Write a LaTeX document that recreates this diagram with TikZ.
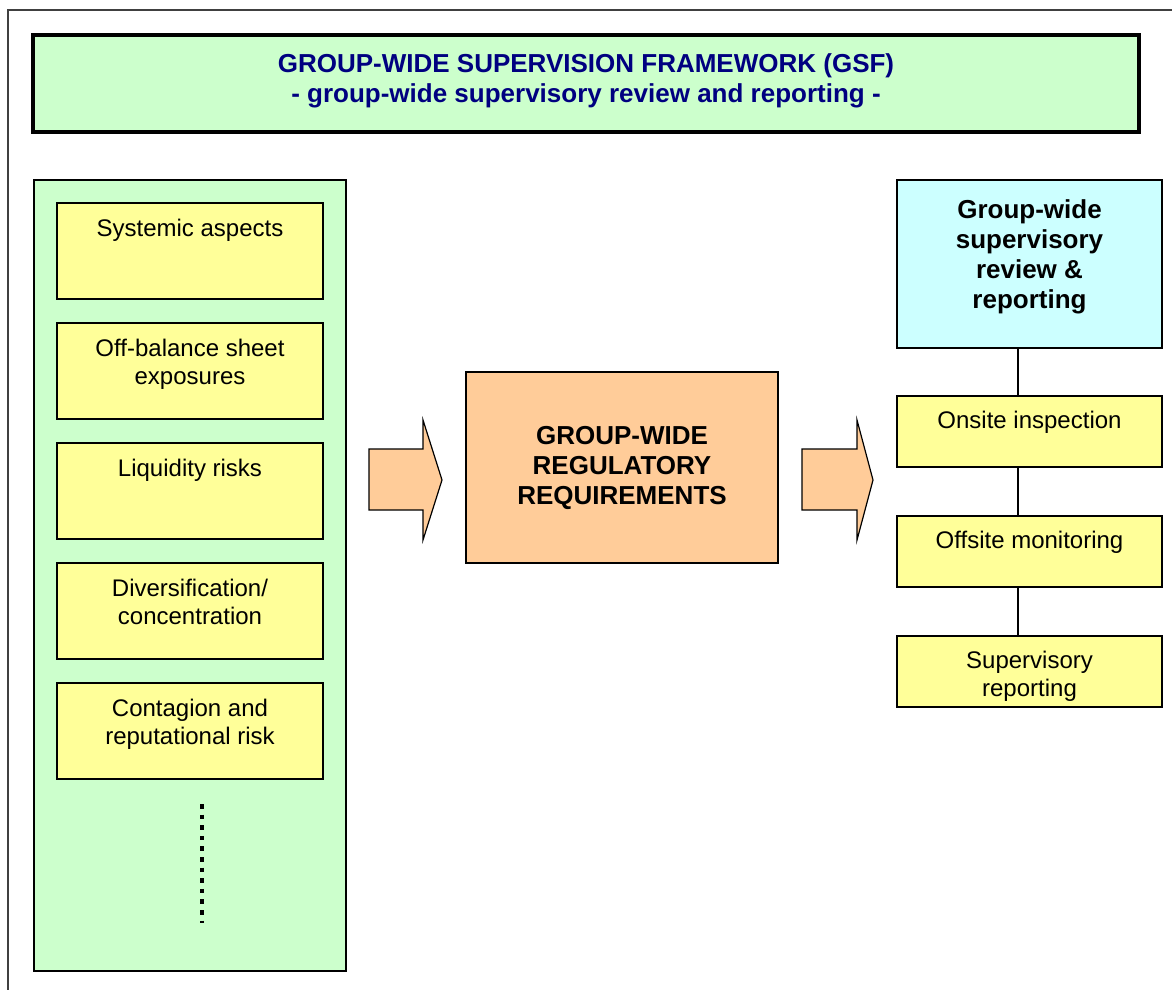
\documentclass[tikz,border=0pt]{standalone}
\usepackage{fontspec}
\setmainfont{Liberation Sans}
\usetikzlibrary{calc,positioning}
\definecolor{gsfgreen}{HTML}{CCFFCC}
\definecolor{gsfblue}{HTML}{000080}
\definecolor{itemyellow}{HTML}{FFFF99}
\definecolor{reqorange}{HTML}{FFCC99}
\definecolor{revcyan}{HTML}{CCFFFF}
\tikzset{%
    frame/.style={%
        draw=black!75, line width=1pt
    },
    gsf/.style={%
        draw, line width=1.6pt, fill=gsfgreen, minimum width=553pt, minimum height=48.5pt,
        label={[gsftxt]north:#1}
    },
    gsftxt/.style={%
        anchor=north, inner sep=0pt, yshift=-9.7pt, align=center, text=gsfblue,
        font=\bfseries\fontsize{13}{15}\selectfont
    },
    panel/.style={%
        draw, line width=1pt, fill=gsfgreen, minimum width=156pt, minimum height=395.5pt
    },
    item/.style={%
        draw, line width=0.8pt, fill=itemyellow, minimum width=133pt, minimum height=48pt,
        label={[itemtxt]north:#1}
    },
    itemtxt/.style={%
        anchor=north, inner sep=0pt, yshift=-8.1pt, align=center, font=\fontsize{12}{14}\selectfont
    },
    check/.style={%
        draw, line width=0.8pt, fill=itemyellow, minimum width=132.5pt, minimum height=35.5pt,
        label={[checktxt]north:#1}
    },
    checktxt/.style={%
        anchor=north, inner sep=0pt, yshift=-7.6pt, align=center, font=\fontsize{12}{14}\selectfont
    },
    review/.style={%
        draw, line width=0.8pt, fill=revcyan, minimum width=132.5pt, minimum height=84pt,
        label={[reviewtxt]north:#1}
    },
    reviewtxt/.style={%
        anchor=north, inner sep=0pt, yshift=-9.8pt, align=center, font=\bfseries\fontsize{13}{15}\selectfont
    },
    req/.style={%
        draw, line width=0.8pt, fill=reqorange, minimum width=156pt, minimum height=95.5pt,
        align=center, font=\bfseries\fontsize{13}{15}\selectfont
    },
    blockarrow/.style={%
        draw, line width=0.6pt, fill=reqorange, line join=miter
    },
    dots/.style={%
        line width=2.3pt, dash pattern=on 2.3pt off 3pt
    },
    link/.style={%
        line width=0.8pt
    },
}

\begin{document}
\begin{tikzpicture}[x=0.5pt, y=-0.5pt]
      \useasboundingbox (0,0) rectangle (1172,990);
      \draw[frame] (8,990) -- (8,10) -- (1172,10);

      % header
      \node[gsf={GROUP-WIDE SUPERVISION FRAMEWORK (GSF)\\- group-wide supervisory review and reporting -}] (gsf) at (586,83.5) {};

      % left column
      \node[panel] (panel) at (190,575.5) {};
      \node[item={Systemic aspects}] (sys) at (190,251) {};
      \node[item={Off-balance sheet\\exposures}] (obs) at (190,371) {};
      \node[item={Liquidity risks}] (liq) at (190,491) {};
      \node[item={Diversification/\\concentration}] (div) at (190,611) {};
      \node[item={Contagion and\\reputational risk}] (con) at (190,731) {};
      \draw[dots] (202,804) -- (202,923);

      % requirements
      \node[req] (req) at (622,467.5) {GROUP-WIDE\\REGULATORY\\REQUIREMENTS};
      \draw[blockarrow] (369,449) -- (423,449) -- (423,420) -- (442,480) -- (423,540) -- (423,510) -- (369,510) -- cycle;
      \draw[blockarrow] (802,449) -- (857,449) -- (857,420) -- (873,480) -- (857,540) -- (857,510) -- (802,510) -- cycle;

      % right column
      \node[review={Group-wide\\supervisory\\review \&\\reporting}] (rev) at (1029.5,264) {};
      \node[check={Onsite inspection}] (ons) at (1029.5,431.5) {};
      \node[check={Offsite monitoring}] (off) at (1029.5,551.5) {};
      \node[check={Supervisory\\reporting}] (rep) at (1029.5,671.5) {};
      \draw[link] ([xshift=-5.75pt]rev.south) -- ([xshift=-5.75pt]ons.north);
      \draw[link] ([xshift=-5.75pt]ons.south) -- ([xshift=-5.75pt]off.north);
      \draw[link] ([xshift=-5.75pt]off.south) -- ([xshift=-5.75pt]rep.north);
\end{tikzpicture}
\end{document}
